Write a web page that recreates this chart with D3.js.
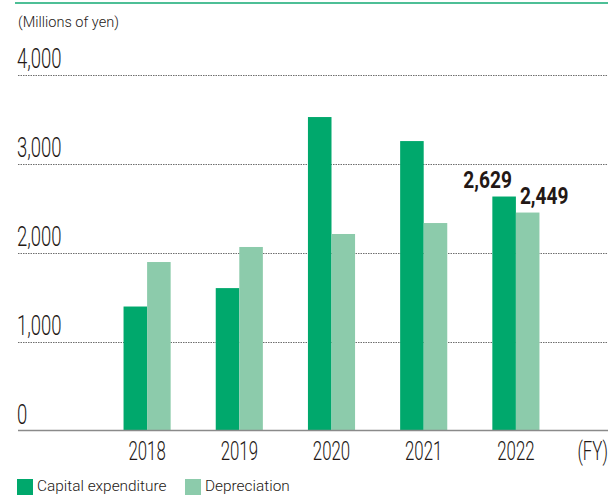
<!DOCTYPE html>
<html>
<head>
<meta charset="utf-8">
<script src="https://cdn.jsdelivr.net/npm/d3@7"></script>
<style>
  body { margin: 0; background: #fff; }
  text { font-family: Roboto, "Noto Sans", sans-serif; fill: #231815; }
</style>
</head>
<body>
<svg id="chart" width="608" height="497"></svg>
<script>
// data
var years = ["2018", "2019", "2020", "2021", "2022"];
var capex = [1393, 1600, 3522, 3252, 2629];
var depreciation = [1893, 2062, 2208, 2331, 2449];
var yTicks = [0, 1000, 2000, 3000, 4000];
var seriesNames = ["Capital expenditure", "Depreciation"];
var colors = ["#00a86c", "#8ccbab"];

var svg = d3.select("#chart");

var left = 18,
  right = 608,
  y0 = 430.5;

var yScale = d3.scaleLinear().domain([0, 4000]).range([y0, 74.5]);
var xScale = d3.scaleBand().domain(years).range([101, 562]).paddingInner(0.489).paddingOuter(0.2445);

// condensed text: the original uses a narrow DIN-like face
function ctext(sel, x, y, sx) {
  return sel.append("text")
    .attr("transform", "translate(" + x + "," + y + ") scale(" + sx + ",1)");
}

// top green rule
svg.append("line")
  .attr("x1", 15).attr("x2", 608)
  .attr("y1", 3).attr("y2", 3)
  .attr("stroke", "#4dbf96")
  .attr("stroke-width", 2);

ctext(svg, left, 27, 0.97)
  .attr("font-size", 15)
  .attr("font-weight", 300)
  .text("(Millions of yen)");

// gridlines + tick labels
var grid = svg.append("g").attr("class", "grid");
grid.selectAll("line")
  .data(yTicks.filter(function (d) { return d > 0; }))
  .enter()
  .append("line")
  .attr("x1", left).attr("x2", right)
  .attr("y1", function (d) { return Math.round(yScale(d)) + 0.5; })
  .attr("y2", function (d) { return Math.round(yScale(d)) + 0.5; })
  .attr("stroke", "#6e6e6e")
  .attr("stroke-width", 1)
  .attr("stroke-dasharray", "1.5,1");

yTicks.forEach(function (d) {
  ctext(grid, left - 1, yScale(d) - 7, 0.66)
    .attr("font-size", 28)
    .attr("font-weight", 300)
    .text(d3.format(",")(d));
});

// bars
var sub = d3.scaleBand().domain([0, 1]).range([0, xScale.bandwidth()]);
var barData = [];
years.forEach(function (y, i) {
  barData.push({ year: y, s: 0, v: capex[i] });
  barData.push({ year: y, s: 1, v: depreciation[i] });
});

svg.append("g")
  .selectAll("rect")
  .data(barData)
  .enter()
  .append("rect")
  .attr("x", function (d) { return xScale(d.year) + sub(d.s); })
  .attr("y", function (d) { return yScale(d.v); })
  .attr("width", sub.bandwidth())
  .attr("height", function (d) { return y0 - yScale(d.v); })
  .attr("fill", function (d) { return colors[d.s]; });

// baseline
svg.append("line")
  .attr("x1", left).attr("x2", right)
  .attr("y1", y0).attr("y2", y0)
  .attr("stroke", "#8a8a8a")
  .attr("stroke-width", 1.5);

// x labels
var xg = svg.append("g");
years.forEach(function (d) {
  ctext(xg, xScale(d) + xScale.bandwidth() / 2, 460, 0.66)
    .attr("text-anchor", "middle")
    .attr("font-size", 25.5)
    .attr("font-weight", 300)
    .text(d);
});

ctext(svg, 608, 460, 0.66)
  .attr("text-anchor", "end")
  .attr("font-size", 25.5)
  .attr("font-weight", 300)
  .text("(FY)");

// value labels for latest year
var last = years.length - 1;
ctext(svg, xScale(years[last]) + sub(1) - 4, yScale(capex[last]) - 8.5, 0.78)
  .attr("text-anchor", "end")
  .attr("font-size", 24.5)
  .attr("font-weight", "bold")
  .text(d3.format(",")(capex[last]));

ctext(svg, xScale(years[last]) + sub(1) + 4, yScale(depreciation[last]) - 8.5, 0.78)
  .attr("text-anchor", "start")
  .attr("font-size", 24.5)
  .attr("font-weight", "bold")
  .text(d3.format(",")(depreciation[last]));

// legend
var legendX = [17, 185];
var legend = svg.append("g")
  .selectAll("g")
  .data(seriesNames)
  .enter()
  .append("g")
  .attr("transform", function (d, i) { return "translate(" + legendX[i] + ",479)"; });

legend.append("rect")
  .attr("width", 16)
  .attr("height", 16)
  .attr("fill", function (d, i) { return colors[i]; });

legend.append("text")
  .attr("x", 20)
  .attr("y", 12)
  .attr("font-size", 15.4)
  .attr("font-weight", 300)
  .text(function (d) { return d; });
</script>
</body>
</html>
